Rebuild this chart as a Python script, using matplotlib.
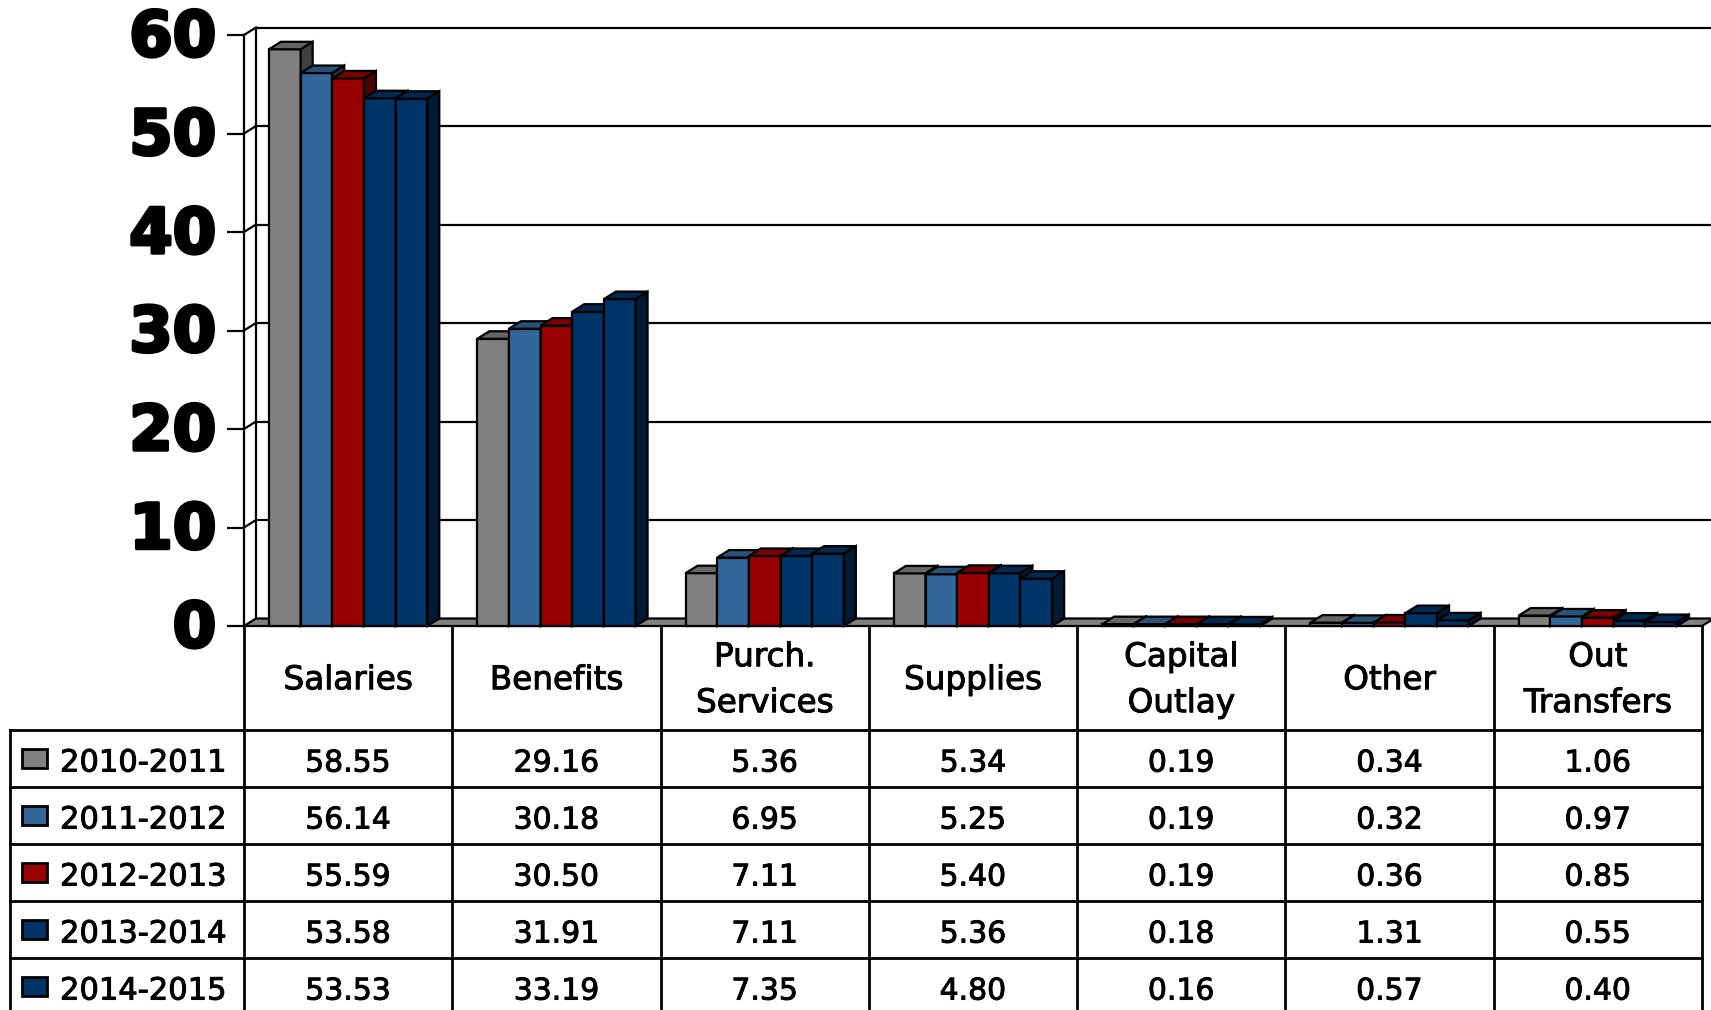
import numpy as np
import matplotlib.pyplot as plt
from matplotlib.patches import Polygon, Rectangle
from matplotlib.transforms import ScaledTranslation
import matplotlib.colors as mcolors
import matplotlib.patheffects as pe

categories = ["Salaries", "Benefits", "Purch.\nServices", "Supplies",
              "Capital\nOutlay", "Other", "Out\nTransfers"]
years = ["2010-2011", "2011-2012", "2012-2013", "2013-2014", "2014-2015"]
fy11 = [58.55, 29.16, 5.36, 5.34, 0.19, 0.34, 1.06]
fy12 = [56.14, 30.18, 6.95, 5.25, 0.19, 0.32, 0.97]
fy13 = [55.59, 30.50, 7.11, 5.40, 0.19, 0.36, 0.85]
fy14 = [53.58, 31.91, 7.11, 5.36, 0.18, 1.31, 0.55]
fy15 = [53.53, 33.19, 7.35, 4.80, 0.16, 0.57, 0.40]
series = [fy11, fy12, fy13, fy14, fy15]
colors = ["#808080", "#336699", "#990000", "#003366", "#003366"]
yticks = [0, 10, 20, 30, 40, 50, 60]

W, H = 1711, 1010
fig = plt.figure(figsize=(W / 100, H / 100), dpi=100)

# plot area (pixels from the top-left corner)
left, right = 244, 1702
base, top = 626, 35
n = len(categories)
ax = fig.add_axes([left / W, 1 - base / H, (right - left) / W, (base - top) / H])
ax.set_xlim(-0.5, n - 0.5)
ax.set_ylim(0, 60)
ax.patch.set_visible(False)

colpx = (right - left) / n
unitpx = (base - top) / 60
ddx = 12 / colpx      # depth offset in data units
ddy = 7.5 / unitpx
lw = 1.6

# back wall gridlines and left side wall
for y in yticks[1:]:
    ax.plot([-0.5 + ddx, n + 0.5], [y + ddy, y + ddy], color="black", lw=lw,
            zorder=0.5, clip_on=False)
    ax.plot([-0.5, -0.5 + ddx], [y, y + ddy], color="black", lw=lw,
            zorder=0.5, clip_on=False)
ax.plot([-0.5 + ddx, -0.5 + ddx], [ddy, 60 + ddy], color="black", lw=lw,
        zorder=0.5, clip_on=False)

# floor
floor = Polygon([(-0.5, 0), (n - 0.5, 0), (n - 0.5 + ddx, ddy), (-0.5 + ddx, ddy)],
                closed=True, facecolor="#808080", edgecolor="black", lw=lw,
                zorder=1, clip_on=False)
ax.add_patch(floor)

# bars with top and side faces
bw = 0.152
xs = np.arange(n)
for j, vals in enumerate(series):
    xj = xs + (j - 2) * bw
    c = np.array(mcolors.to_rgb(colors[j]))
    ax.bar(xj, vals, width=bw, color=colors[j], edgecolor="black", lw=lw,
           zorder=3 + j, clip_on=False)
    for x, v in zip(xj, vals):
        xl, xr = x - bw / 2, x + bw / 2
        topf = Polygon([(xl, v), (xr, v), (xr + ddx, v + ddy), (xl + ddx, v + ddy)],
                       closed=True, facecolor=c * 0.8, edgecolor="black", lw=lw,
                       zorder=3 + j, clip_on=False)
        side = Polygon([(xr, 0), (xr + ddx, ddy), (xr + ddx, v + ddy), (xr, v)],
                       closed=True, facecolor=c * 0.5, edgecolor="black", lw=lw,
                       zorder=3 + j, clip_on=False)
        ax.add_patch(topf)
        ax.add_patch(side)

for s in ["top", "right", "bottom"]:
    ax.spines[s].set_visible(False)
ax.spines["left"].set_linewidth(lw)
ax.spines["left"].set_zorder(0.5)
ax.set_xticks([])
ax.set_yticks(yticks)
ax.set_yticklabels([str(t) for t in yticks], fontsize=45, fontweight="bold")
ax.tick_params(axis="y", length=12, width=lw, pad=8)
shift = ScaledTranslation(0, -0.04, fig.dpi_scale_trans)
for t in ax.get_yticklabels():
    t.set_path_effects([pe.withStroke(linewidth=2.5, foreground="black")])
    t.set_verticalalignment("center")
    t.set_transform(t.get_transform() + shift)

# data table under the chart
hdr, rowh = 104, 57
tleft = 10
lcol = (left - tleft) / colpx
hrows = hdr / rowh
nrows = len(series)
tbottom = base + hdr + nrows * rowh
tax = fig.add_axes([tleft / W, 1 - tbottom / H, (right - tleft) / W, (tbottom - base) / H])
tax.set_xlim(-0.5 - lcol, n - 0.5)
tax.set_ylim(hrows + nrows, 0)
tax.axis("off")

tlw = 2.0
for k in range(n + 1):
    tax.plot([k - 0.5, k - 0.5], [0, hrows + nrows], color="black", lw=tlw, clip_on=False)
tax.plot([-0.5 - lcol] * 2, [hrows, hrows + nrows], color="black", lw=tlw, clip_on=False)
for r in range(nrows + 1):
    tax.plot([-0.5 - lcol, n - 0.5], [hrows + r] * 2, color="black", lw=tlw, clip_on=False)

bold = [pe.withStroke(linewidth=0.7, foreground="black")]
for i, cat in enumerate(categories):
    tax.text(i, hrows / 2 + 0.03, cat, ha="center", va="center", fontsize=23.5,
             linespacing=1.5, path_effects=bold)

for r, (yr, vals) in enumerate(zip(years, series)):
    yc = hrows + r + 0.5
    sw = Rectangle((-0.5 - lcol + 12 / colpx, yc - 9.5 / rowh), 25 / colpx, 19 / rowh,
                   facecolor=colors[r], edgecolor="black", lw=2, clip_on=False)
    tax.add_patch(sw)
    tax.text(-0.5 - lcol + 50 / colpx, yc + 0.08, yr, ha="left", va="center",
             fontsize=22, path_effects=bold)
    for i, v in enumerate(vals):
        tax.text(i, yc + 0.08, f"{v:.2f}", ha="center", va="center", fontsize=21.5,
                 path_effects=bold)

fig.savefig("out.png", dpi=100)
